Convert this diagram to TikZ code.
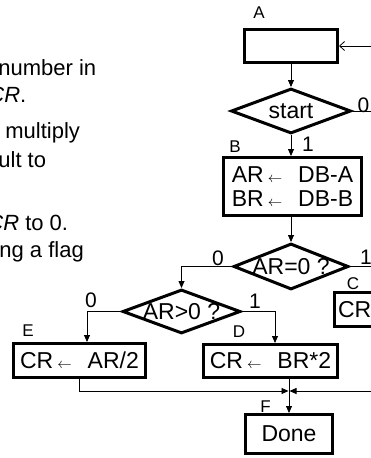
\documentclass[tikz,border=0pt]{standalone}
\usepackage{fontspec}
\setmainfont{Liberation Sans}
\usetikzlibrary{shapes.geometric}
\usetikzlibrary{arrows.meta}

\newcommand{\assignto}{\hspace{4pt}{\fontsize{14}{14}\selectfont$\leftarrow$}\hspace{16pt}}

\begin{document}
\begin{tikzpicture}[
  x=1pt, y=-1pt,
  font=\fontsize{23}{24}\selectfont,
  line width=0.8pt
]
\tikzset{
    stepbox/.style = {rectangle, draw=black, line width=3pt, inner sep=0pt, align=center},
    decision/.style = {diamond, draw=black, line width=3pt, inner sep=0pt, aspect=1},
    tag/.style = {font=\fontsize{17}{17}\selectfont, inner sep=0pt},
    branch/.style = {font=\fontsize{21}{21}\selectfont, inner sep=0pt},
    note/.style = {anchor=base west, inner sep=0pt, font=\fontsize{22}{24}\selectfont},
    arr/.style = {-{Triangle[length=7pt,width=6pt]}},
    feed/.style = {-{Straight Barb[length=5pt,width=9pt]}}
}
\useasboundingbox (0,0) rectangle (371,458);
\clip (0,0) rectangle (371,458);

% text column, cut by the frame
\node[note] (n1) at (-2,75) {number in};
\node[note] (n2) at (-12,102) {\textit{CR}.};
\node[note] (n3) at (5,138) {multiply};
\node[note] (n4) at (-2,167) {ult to};
\node[note] (n5) at (-13,230) {\textit{CR} to 0.};
\node[note] (n6) at (-1,257) {ng a flag};

% flow chart
\node[stepbox, minimum width=93pt, minimum height=33pt] (A) at (291,46) {};
\node[decision, minimum width=120pt, minimum height=45pt, label={center:start}] (start) at (291,111) {};
\node[stepbox, minimum width=138pt, minimum height=58pt] (B) at (292.5,186.5) {AR\assignto DB-A\\BR\assignto DB-B};
\node[decision, minimum width=115pt, minimum height=46pt, label={center:AR=0 ?}] (eq) at (291,266.5) {};
\node[decision, minimum width=118pt, minimum height=44pt, label={center:AR>0 ?}] (gt) at (181.5,311.5) {};
\node[stepbox, anchor=west, text width=50pt, align=left, inner xsep=4pt, minimum height=34pt] (C) at (332.5,309.5) {CR};
\node[stepbox, minimum width=132pt, minimum height=34pt] (E) at (79.5,360.5) {CR\assignto AR/2};
\node[stepbox, minimum width=134pt, minimum height=33pt] (D) at (270.5,361) {CR\assignto BR*2};
\node[stepbox, minimum width=87pt, minimum height=39pt] (Done) at (289,434) {Done};

% state letters
\node[tag] (tA) at (259,12.5) {A};
\node[tag] (tB) at (235,147) {B};
\node[tag] (tC) at (353,284) {C};
\node[tag] (tD) at (239,332) {D};
\node[tag] (tE) at (28,331) {E};
\node[tag] (tF) at (265.5,407) {F};

% branch values
\node[branch] (s0) at (363.5,105) {0};
\node[branch] (s1) at (308,144.5) {1};
\node[branch] (e1) at (366,257.5) {1};
\node[branch] (e0) at (218,258.5) {0};
\node[branch] (g0) at (91,300) {0};
\node[branch] (g1) at (255,301.5) {1};

% ends leaving the frame
\coordinate (backA) at (380,46);
\coordinate (outS) at (380,111);
\coordinate (outC) at (380,266.5);
\coordinate (fromC) at (380,391);
\coordinate (mg) at (289,391);

\draw[feed] (backA) -- (A.east);
\draw[arr] (A.south) -- (start.north);
\draw (start.east) -- (outS);
\draw[arr] (start.south) -- (start.south |- B.north);
\draw[arr] (B.south -| eq.north) -- (eq.north);
\draw (eq.east) -- (outC);
\draw[arr] (eq.west) -| (gt.north);
\draw[arr] (gt.west) -| ([xshift=7.5pt]E.north);
\draw[arr] (gt.east) -| ([xshift=4.5pt]D.north);
\draw[arr] (E.south) |- ([xshift=-0.5pt]mg);
\draw[arr] (fromC) -- ([xshift=0.5pt]mg);
\draw[arr] (D.south -| mg) -- (Done.north -| mg);
\end{tikzpicture}
\end{document}
